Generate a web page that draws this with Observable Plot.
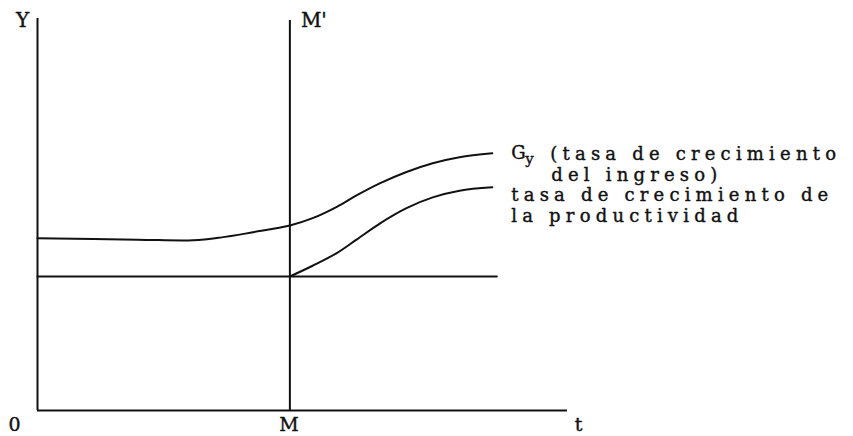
<!DOCTYPE html>
<html>
<head>
<meta charset="utf-8">
<script src="https://cdn.jsdelivr.net/npm/d3@7"></script>
<script src="https://cdn.jsdelivr.net/npm/@observablehq/plot@0.6"></script>
<style>
  html, body { margin: 0; padding: 0; background: #fff; }
</style>
</head>
<body>
<div id="chart"></div>
<script>
// Time axis (abstract units): origin 0, break point M, axis end
const tOrigin = 0;
const tM = 5;
const tAxisEnd = 10.5;
const yTop = 5.85;

// Upper curve: Gy (tasa de crecimiento del ingreso)
const tUpper  = [0, 1.98, 3.08, 3.62, 4.27, 5.0, 5.45, 5.93, 6.32, 6.78, 7.31, 7.83, 8.36, 9.01];
const gyUpper = [2.57, 2.55, 2.54, 2.58, 2.66, 2.76, 2.87, 3.04, 3.21, 3.39, 3.56, 3.69, 3.78, 3.84];

// Lower curve: tasa de crecimiento de la productividad (after M)
const tLower    = [5.0, 5.45, 5.93, 6.32, 6.78, 7.31, 7.83, 8.36, 9.01];
const prodLower = [2.0, 2.16, 2.35, 2.55, 2.79, 3.02, 3.18, 3.28, 3.33];

// Constant base rate line
const tBase = [0, 9.1];
const baseRate = [2.0, 2.0];

// Texts
const axisLabels = {y: "Y", mPrime: "M'", origin: "0", m: "M", t: "t"};
const gyLabel = ["G", "y", "(tasa de crecimiento", "del ingreso)"];
const prodLabel = ["tasa de crecimiento de", "la productividad"];

const upper = tUpper.map((t, i) => ({t, v: gyUpper[i]}));
const lower = tLower.map((t, i) => ({t, v: prodLower[i]}));
const base = tBase.map((t, i) => ({t, v: baseRate[i]}));
const upperEnd = upper[upper.length - 1];
const lowerEnd = lower[lower.length - 1];

const font = "DejaVu Serif";
const ink = "#111";
const labelSize = 18;
const txt = {fill: ink, stroke: ink, strokeWidth: 0.4};

const chart = Plot.plot({
  width: 853,
  height: 436,
  marginLeft: 37,
  marginRight: 286,
  marginTop: 18,
  marginBottom: 26,
  x: {domain: [tOrigin, tAxisEnd], axis: null},
  y: {domain: [0, yTop], axis: null},
  style: {fontFamily: font, background: "#fff", color: ink, overflow: "visible"},
  marks: [
    // axes
    Plot.ruleX([tOrigin], {y1: 0, y2: yTop, stroke: ink, strokeWidth: 2}),
    Plot.ruleY([0], {x1: tOrigin, x2: tAxisEnd, stroke: ink, strokeWidth: 2}),
    // M - M' vertical
    Plot.ruleX([tM], {y1: 0, y2: yTop - 0.03, stroke: ink, strokeWidth: 2}),
    // curves
    Plot.line(base, {x: "t", y: "v", stroke: ink, strokeWidth: 2}),
    Plot.line(upper, {x: "t", y: "v", stroke: ink, strokeWidth: 2, curve: "catmull-rom"}),
    Plot.line(lower, {x: "t", y: "v", stroke: ink, strokeWidth: 2, curve: "catmull-rom"}),
    // axis letters
    Plot.text([axisLabels.y], {x: tOrigin, y: yTop, text: d => d, dx: -15, dy: 2, fontSize: 20, ...txt}),
    Plot.text([axisLabels.mPrime], {x: tM, y: yTop, text: d => d, textAnchor: "start", dx: 11, dy: 2, fontSize: 20, ...txt}),
    Plot.text([axisLabels.origin], {x: tOrigin, y: 0, text: d => d, dx: -23, dy: 14, fontSize: 19, ...txt}),
    Plot.text([axisLabels.m], {x: tM, y: 0, text: d => d, dx: -1, dy: 14, fontSize: 19, ...txt}),
    Plot.text([axisLabels.t], {x: tAxisEnd, y: 0, text: d => d, dx: 11, dy: 14, fontSize: 19, ...txt}),
    // Gy label
    Plot.text([upperEnd], {x: "t", y: "v", text: () => gyLabel[0], textAnchor: "start", dx: 19, dy: 0, fontSize: labelSize, ...txt}),
    Plot.text([upperEnd], {x: "t", y: "v", text: () => gyLabel[1], textAnchor: "start", dx: 33, dy: 6, fontSize: 15, ...txt}),
    Plot.text([upperEnd], {x: "t", y: "v", text: () => gyLabel[2], textAnchor: "start", dx: 58, dy: 1, fontSize: labelSize, ...txt}),
    Plot.text([upperEnd], {x: "t", y: "v", text: () => gyLabel[3], textAnchor: "start", dx: 59, dy: 22, fontSize: labelSize, ...txt}),
    // productivity label
    Plot.text([lowerEnd], {x: "t", y: "v", text: () => prodLabel[0], textAnchor: "start", dx: 19, dy: 8, fontSize: labelSize, ...txt}),
    Plot.text([lowerEnd], {x: "t", y: "v", text: () => prodLabel[1], textAnchor: "start", dx: 19, dy: 29, fontSize: labelSize, ...txt})
  ]
});
// wide typewriter-like spacing for the multi-word labels only
d3.select(chart).selectAll("text")
  .filter(function() { return this.textContent.length > 2; })
  .attr("letter-spacing", "5.2px");
document.getElementById("chart").appendChild(chart);
</script>
</body>
</html>
